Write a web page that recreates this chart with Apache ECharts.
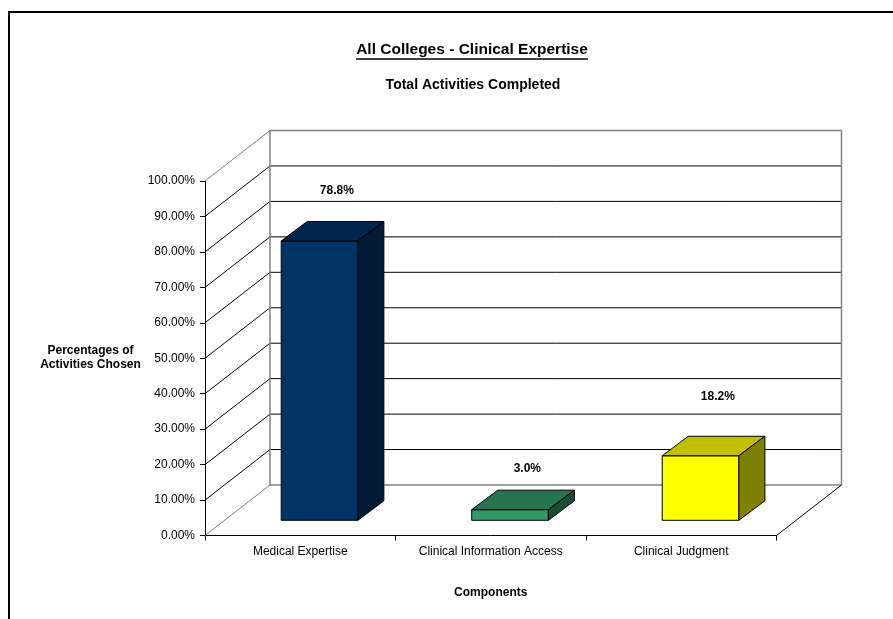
<!DOCTYPE html>
<html>
<head>
<meta charset="utf-8">
<script src="https://cdn.jsdelivr.net/npm/echarts@6/dist/echarts.min.js"></script>
<style>
  html, body { margin: 0; padding: 0; background: #fff; }
  #chart { width: 893px; height: 619px; }
</style>
</head>
<body>
<div id="chart"></div>
<script>
// ---- data ----
const categories = ['Medical Expertise', 'Clinical Information Access', 'Clinical Judgment'];
const shares = [78.8, 3.0, 18.2];            // percent of activities chosen
const yTicks = [0, 10, 20, 30, 40, 50, 60, 70, 80, 90, 100];
const titleText = 'All Colleges - Clinical Expertise';
const subtitleText = 'Total Activities Completed';
const yAxisName = 'Percentages of\nActivities Chosen';
const xAxisName = 'Components';

// ---- look ----
const FONT = '"Liberation Sans", Arial, Helvetica, sans-serif';
const faceColors = [
  { front: '#003366', top: '#00264d', side: '#001a33' },
  { front: '#339966', top: '#267350', side: '#1a4d33' },
  { front: '#ffff00', top: '#c0c000', side: '#808000' }
];
const WALL_DEPTH = [65, -50.5];   // offset from the front plane to the back wall
const BAR_FRONT = [19.3, -15.2];  // bar front face sits a little into the floor
const BAR_DEPTH = [26, -19.5];    // thickness of each box
const BAR_WIDTH_RATIO = 0.4025;
const LABEL_LIFT = [31, 21, 40];  // value label distance above each box
const EDGE_GRAY = '#808080';

function textWidth(str, font) {
  const ctx = document.createElement('canvas').getContext('2d');
  ctx.font = font;
  return ctx.measureText(str).width;
}

function renderWalls(params, api) {
  const cs = params.coordSys;
  const [dx, dy] = WALL_DEPTH;
  const left = cs.x, right = cs.x + cs.width;
  const y0 = api.coord([0, 0])[1];
  const yTop = api.coord([0, yTicks[yTicks.length - 1]])[1];
  const children = [];
  const line = (x1, y1, x2, y2, color, w) => children.push({
    type: 'line',
    shape: { x1, y1, x2, y2 },
    style: { stroke: color, lineWidth: w }
  });
  yTicks.forEach((v, k) => {
    const y = api.coord([0, v])[1];
    const edge = k === 0 || k === yTicks.length - 1;
    // back wall gridline
    line(left + dx, y + dy, right + dx, y + dy, edge ? EDGE_GRAY : '#000', edge ? 1.5 : 1);
    // side wall diagonal
    line(left, y, left + dx, y + dy, edge ? EDGE_GRAY : '#000', 1);
  });
  // back wall vertical edges
  line(left + dx, y0 + dy, left + dx, yTop + dy, EDGE_GRAY, 1.5);
  line(right + dx, y0 + dy, right + dx, yTop + dy, EDGE_GRAY, 1.5);
  // floor right edge
  line(right, y0, right + dx, y0 + dy, '#000', 1);
  return { type: 'group', children };
}

function renderBox(params, api) {
  const i = api.value(0);
  const v = api.value(1);
  const top = api.coord([i, v]);
  const base = api.coord([i, 0]);
  const band = api.size([1, 0])[0];
  const w = band * BAR_WIDTH_RATIO;
  const cx = top[0] + BAR_FRONT[0];
  const x0 = cx - w / 2, x1 = cx + w / 2;
  const yT = top[1] + BAR_FRONT[1];
  const yB = base[1] + BAR_FRONT[1];
  const [dx, dy] = BAR_DEPTH;
  const c = faceColors[i];
  const face = (points, fill) => ({
    type: 'polygon',
    shape: { points },
    style: { fill, stroke: '#000', lineWidth: 1, lineJoin: 'miter' }
  });
  return {
    type: 'group',
    children: [
      face([[x0, yB], [x1, yB], [x1, yT], [x0, yT]], c.front),
      face([[x0, yT], [x1, yT], [x1 + dx, yT + dy], [x0 + dx, yT + dy]], c.top),
      face([[x1, yB], [x1 + dx, yB + dy], [x1 + dx, yT + dy], [x1, yT]], c.side),
      {
        type: 'text',
        style: {
          x: cx + dx - 8.7,
          y: yT + dy - LABEL_LIFT[i],
          text: v.toFixed(1) + '%',
          fill: '#000',
          font: 'bold 12px ' + FONT,
          align: 'center',
          verticalAlign: 'middle'
        }
      }
    ]
  };
}

const chart = echarts.init(document.getElementById('chart'), null, { renderer: 'canvas' });

const titleFont = 'bold 15.5px ' + FONT;
const titleW = textWidth(titleText, titleFont);
const titleX = 472, titleY = 50;

chart.setOption({
  backgroundColor: '#fff',
  animation: false,
  textStyle: { fontFamily: FONT },
  grid: { left: 205, right: 116.5, top: 181, bottom: 83.5, containLabel: false },
  xAxis: {
    type: 'category',
    data: categories,
    boundaryGap: true,
    axisLine: { show: true, lineStyle: { color: '#000', width: 1 } },
    axisTick: { show: true, length: 5, lineStyle: { color: '#000' } },
    axisLabel: { color: '#000', fontSize: 12, fontFamily: FONT, margin: 10 },
    splitLine: { show: false },
    name: xAxisName,
    nameLocation: 'middle',
    nameGap: 51,
    nameTextStyle: { color: '#000', fontSize: 12, fontWeight: 'bold', fontFamily: FONT }
  },
  yAxis: {
    type: 'value',
    min: 0,
    max: 100,
    interval: 10,
    axisLine: { show: true, lineStyle: { color: '#000', width: 1 } },
    axisTick: { show: true, length: 5, lineStyle: { color: '#000' } },
    axisLabel: {
      color: '#000', fontSize: 12, fontFamily: FONT, margin: 10,
      formatter: (val) => val.toFixed(2) + '%'
    },
    splitLine: { show: false }
  },
  graphic: [
    {
      type: 'rect',
      shape: { x: 9, y: 12, width: 940, height: 660 },
      style: { fill: 'none', stroke: '#000', lineWidth: 2 },
      silent: true, z: -10
    },
    {
      type: 'text',
      style: {
        x: titleX, y: titleY, text: titleText, font: titleFont,
        fill: '#000', align: 'center', verticalAlign: 'middle'
      }
    },
    {
      type: 'line',
      shape: { x1: titleX - titleW / 2, y1: titleY + 9, x2: titleX + titleW / 2, y2: titleY + 9 },
      style: { stroke: '#000', lineWidth: 1.3 }
    },
    {
      type: 'text',
      style: {
        x: 473, y: 85.5, text: subtitleText, font: 'bold 14px ' + FONT,
        fill: '#000', align: 'center', verticalAlign: 'middle'
      }
    },
    {
      type: 'text',
      style: {
        x: 90.5, y: 357.5, text: yAxisName, font: 'bold 12px ' + FONT,
        fill: '#000', align: 'center', verticalAlign: 'middle', lineHeight: 14
      }
    }
  ],
  series: [
    {
      type: 'custom',
      name: 'walls',
      renderItem: renderWalls,
      data: [[0, 0]],
      silent: true,
      z: 1
    },
    {
      type: 'custom',
      name: 'share',
      renderItem: renderBox,
      data: shares.map((v, i) => [i, v]),
      encode: { x: 0, y: 1 },
      z: 2
    }
  ]
});
</script>
</body>
</html>
